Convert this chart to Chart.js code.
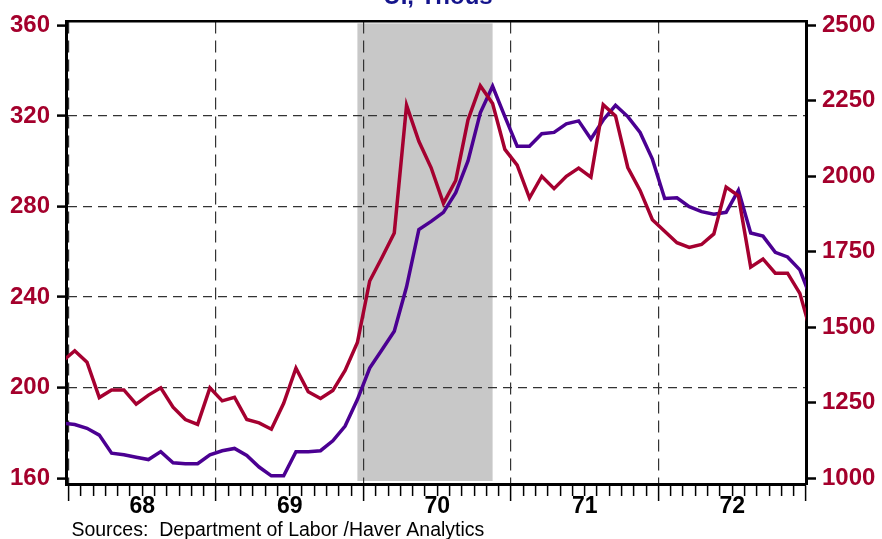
<!DOCTYPE html>
<html>
<head>
<meta charset="utf-8">
<script src="https://cdn.jsdelivr.net/npm/chart.js@4.4.0/dist/chart.umd.min.js"></script>
<style>
  html, body { margin: 0; padding: 0; background: #ffffff; }
  #wrap { width: 882px; height: 539px; }
</style>
</head>
<body>
<div id="wrap"><canvas id="claimsChart" width="882" height="539"></canvas></div>
<script>
// monthly series, Dec 1967 .. Jan 1973 (first and last point only feed the clipped edges)
const firstMonth = '1967-12';
const years = ['68', '69', '70', '71', '72'];
const leftTicks = [160, 200, 240, 280, 320, 360];
const rightTicks = [1000, 1250, 1500, 1750, 2000, 2250, 2500];
const recession = ['1969-12', '1970-11'];

// purple, left axis
const initialClaims = [
  184.3,
  183.7, 182.0, 179.0, 171.0, 170.3, 169.2, 168.2, 171.7, 166.8, 166.4, 166.4, 170.3,
  172.1, 173.1, 170.0, 164.9, 161.0, 161.0, 171.7, 171.7, 172.1, 176.5, 183.0, 194.7,
  208.6, 216.7, 224.9, 244.5, 269.8, 273.4, 277.4, 286.1, 300.1, 321.4, 333.1, 319.7,
  306.6, 306.6, 312.1, 312.7, 316.5, 317.8, 309.8, 318.2, 324.7, 319.7, 312.7, 300.9,
  283.5, 283.8, 279.9, 277.7, 276.6, 277.4, 287.1, 268.3, 266.9, 259.7, 257.7, 252.0,
  238.1
];

// red, right axis
const insuredUnemp = [
  1387,
  1422, 1384, 1267, 1292, 1292, 1245, 1275, 1299, 1235, 1194, 1178, 1299,
  1256, 1268, 1194, 1183, 1162, 1248, 1364, 1286, 1264, 1290, 1357, 1449,
  1653, 1731, 1812, 2235, 2116, 2028, 1910, 1986, 2187, 2300, 2241, 2089,
  2037, 1928, 2000, 1959, 2000, 2027, 1997, 2237, 2200, 2029, 1953, 1856,
  1818, 1780, 1764, 1774, 1809, 1964, 1935, 1699, 1726, 1679, 1679, 1612,
  1468
];

const FONT = '"Liberation Sans", Arial, sans-serif';
const CRIMSON = '#a4002c';

// months counted from Jan 1968, point placed mid-month
function monthPos(ym) {
  const [y, m] = ym.split('-').map(Number);
  return (y - 1968) * 12 + (m - 1) + 0.5;
}
const x0 = monthPos(firstMonth);
const toPoints = arr => arr.map((v, i) => ({ x: x0 + i, y: v }));

const recessionShade = {
  id: 'recessionShade',
  beforeDraw(chart) {
    const { ctx, chartArea, scales } = chart;
    const a = scales.x.getPixelForValue(monthPos(recession[0]));
    const b = scales.x.getPixelForValue(monthPos(recession[1]));
    ctx.save();
    ctx.fillStyle = '#c8c8c8';
    ctx.fillRect(a, chartArea.top + 2, b - a, chartArea.bottom - chartArea.top - 5);
    ctx.restore();
  }
};

const topTitle = {
  id: 'topTitle',
  afterDraw(chart) {
    const { ctx, chartArea } = chart;
    ctx.save();
    ctx.font = 'bold 24px ' + FONT;
    ctx.fillStyle = '#14148c';
    ctx.textAlign = 'center';
    ctx.textBaseline = 'alphabetic';
    ctx.fillText('UI, Thous', (chartArea.left + chartArea.right) / 2 + 2, 4);
    ctx.restore();
  }
};

const ctx = document.getElementById('claimsChart').getContext('2d');

new Chart(ctx, {
  type: 'line',
  data: {
    datasets: [
      {
        label: 'Insured unemployment',
        data: toPoints(insuredUnemp),
        yAxisID: 'yRight',
        borderColor: '#a50030',
        borderWidth: 3.5,
        pointRadius: 0,
        tension: 0
      },
      {
        label: 'Initial claims',
        data: toPoints(initialClaims),
        yAxisID: 'y',
        borderColor: '#4b0092',
        borderWidth: 3.5,
        pointRadius: 0,
        tension: 0
      }
    ]
  },
  options: {
    responsive: false,
    animation: false,
    devicePixelRatio: 1,
    layout: { padding: 0 },
    plugins: {
      legend: { display: false },
      tooltip: { enabled: false },
      title: { display: false }
    },
    scales: {
      x: {
        type: 'linear',
        position: 'bottom',
        min: -0.21,
        max: 60,
        afterBuildTicks: scale => {
          const t = [];
          for (let i = 0; i <= years.length * 12; i++) t.push({ value: i });
          scale.ticks = t;
        },
        afterFit: scale => { scale.height = 55; },
        ticks: {
          autoSkip: false,
          maxRotation: 0,
          minRotation: 0,
          padding: -8,
          color: '#000',
          font: { family: FONT, size: 23, weight: 'bold' },
          callback: v => (v % 12 === 6 ? years[(v - 6) / 12] : '')
        },
        grid: {
          color: c => (c.tick && c.tick.value % 12 === 0 ? '#333' : 'rgba(0,0,0,0)'),
          lineWidth: 1.2,
          tickColor: '#000',
          tickWidth: 1.5,
          tickLength: 17,
          tickBorderDash: c => (c.tick && c.tick.value % 12 === 0 ? [] : [10, 30])
        },
        border: { display: true, color: '#000', width: 3, dash: [12, 7] },
        title: {
          display: true,
          text: ' Sources:  Department of Labor /Haver Analytics',
          align: 'start',
          color: '#000',
          padding: 0,
          font: { family: FONT, size: 19.5, lineHeight: 0.85 }
        }
      },
      xTop: {
        type: 'linear',
        position: 'top',
        afterFit: scale => { scale.height = 13; },
        ticks: { display: false },
        grid: { drawOnChartArea: false, drawTicks: false, color: 'rgba(0,0,0,0)' },
        border: { display: true, color: '#000', width: 2.5 }
      },
      y: {
        type: 'linear',
        position: 'left',
        min: 157.4,
        max: 361.74,
        afterBuildTicks: scale => { scale.ticks = leftTicks.map(v => ({ value: v })); },
        afterFit: scale => { scale.width = 66; },
        ticks: {
          padding: 7,
          color: CRIMSON,
          font: { family: FONT, size: 24, weight: 'bold' },
          callback: v => String(v)
        },
        grid: {
          color: c => (c.tick && (c.tick.value === 160 || c.tick.value === 360) ? 'rgba(0,0,0,0)' : '#333'),
          lineWidth: 1.2,
          tickColor: '#000',
          tickWidth: 2.5,
          tickLength: 9
        },
        border: { display: true, color: '#000', width: 3, dash: [9, 6] }
      },
      yRight: {
        type: 'linear',
        position: 'right',
        min: 980.5,
        max: 2513,
        afterBuildTicks: scale => { scale.ticks = rightTicks.map(v => ({ value: v })); },
        afterFit: scale => { scale.width = 76; },
        ticks: {
          padding: 6,
          color: CRIMSON,
          font: { family: FONT, size: 24, weight: 'bold' },
          callback: v => String(v)
        },
        grid: {
          drawOnChartArea: false,
          color: '#000',
          tickColor: '#000',
          tickWidth: 2.5,
          tickLength: 10
        },
        border: { display: true, color: '#000', width: 3 }
      }
    }
  },
  plugins: [recessionShade, topTitle]
});
</script>
</body>
</html>
